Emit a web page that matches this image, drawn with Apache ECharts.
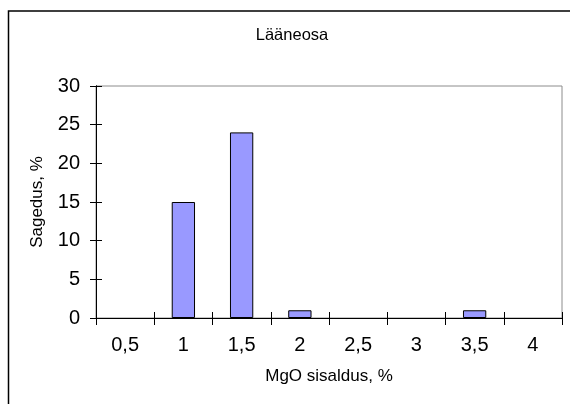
<!DOCTYPE html>
<html>
<head>
<meta charset="utf-8">
<script src="https://cdn.jsdelivr.net/npm/echarts@6/dist/echarts.min.js"></script>
<style>html,body{margin:0;padding:0;background:#fff;}#c{width:570px;height:404px;}</style>
</head>
<body>
<div id="c"></div>
<script>
const categories = ['0,5', '1', '1,5', '2', '2,5', '3', '3,5', '4'];
const frequency = [0, 15, 24, 1, 0, 0, 1, 0];
const yTicks = { min: 0, max: 30, interval: 5 };
const titleText = 'Lääneosa';
const xName = 'MgO sisaldus, %';
const yName = 'Sagedus, %';

const FONT = 'Liberation Sans, Arial, sans-serif';
const barItems = frequency.map(v => v === 0 ? { value: v, itemStyle: { borderWidth: 0 } } : v);
const chart = echarts.init(document.getElementById('c'));
chart.setOption({
  animation: false,
  backgroundColor: '#fff',
  textStyle: { fontFamily: FONT },
  title: {
    text: titleText, left: 287, top: 22, textAlign: 'center',
    textStyle: { fontFamily: FONT, fontSize: 16.5, fontWeight: 'normal', color: '#000' }
  },
  graphic: [{
    type: 'rect', silent: true, z: -1,
    shape: { x: 8.5, y: 11, width: 620, height: 450 },
    style: { fill: 'none', stroke: '#000', lineWidth: 1.5 }
  }],
  grid: { left: 96, top: 86, right: 8, bottom: 86, show: true, borderColor: '#8c8c8c', borderWidth: 1 },
  xAxis: [{
    type: 'category', data: categories, position: 'bottom',
    name: xName, nameLocation: 'middle', nameGap: 50,
    nameTextStyle: { fontFamily: FONT, fontSize: 17, color: '#000' },
    axisLine: { show: true, lineStyle: { color: '#000', width: 1 } },
    axisTick: { show: true, inside: false, length: 7, lineStyle: { color: '#000' } },
    axisLabel: { fontFamily: FONT, fontSize: 20, color: '#000', margin: 17 },
    splitLine: { show: false }
  }, {
    type: 'category', data: categories, position: 'bottom', offset: 0,
    axisLine: { show: true, lineStyle: { color: '#000', width: 1 } },
    axisTick: { show: true, inside: true, length: 6, lineStyle: { color: '#000' } },
    axisLabel: { show: false },
    splitLine: { show: false }
  }],
  yAxis: [{
    type: 'value', min: yTicks.min, max: yTicks.max, interval: yTicks.interval, position: 'left',
    name: yName, nameLocation: 'middle', nameGap: 50,
    nameTextStyle: { fontFamily: FONT, fontSize: 17, color: '#000' },
    axisLine: { show: true, lineStyle: { color: '#000', width: 1 } },
    axisTick: { show: true, inside: false, length: 6, lineStyle: { color: '#000' } },
    axisLabel: { fontFamily: FONT, fontSize: 20, color: '#000', margin: 16 },
    splitLine: { show: false }
  }, {
    type: 'value', min: yTicks.min, max: yTicks.max, interval: yTicks.interval, position: 'left', offset: 0,
    axisLine: { show: true, lineStyle: { color: '#000', width: 1 } },
    axisTick: { show: true, inside: true, length: 6, lineStyle: { color: '#000' } },
    axisLabel: { show: false },
    splitLine: { show: false }
  }],
  series: [{
    type: 'bar', data: barItems, xAxisIndex: 0, yAxisIndex: 0, barWidth: '40%',
    itemStyle: { color: '#9999ff', borderColor: '#000', borderWidth: 1 }
  }]
});
</script>
</body>
</html>
